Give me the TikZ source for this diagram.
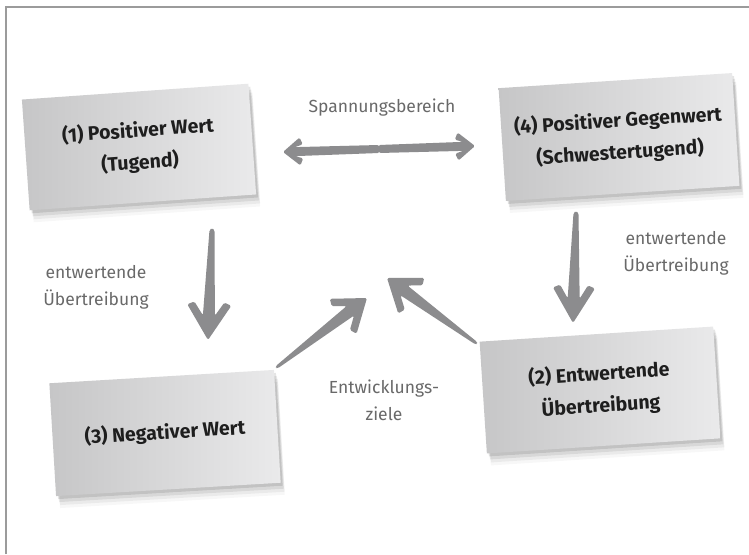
\documentclass[tikz,border=0pt]{standalone}
\usepackage{fontspec}
\setmainfont{Fira Sans}
\usetikzlibrary{calc,shadows}
\definecolor{framegray}{RGB}{155,155,155}
\definecolor{arrowgray}{RGB}{140,140,142}
\definecolor{labelgray}{RGB}{105,105,105}
\definecolor{boxdark}{RGB}{198,198,199}
\definecolor{boxlight}{RGB}{234,234,235}
\definecolor{boxtext}{RGB}{30,30,30}
\newcommand\fatarrow[6]{%
  % #1 tail, #2 tip, #3 head length, #4 head half width, #5 neck half width, #6 tail half width
  \fill[arrowgray, rounded corners=1.5pt]
    (#2)
    -- ($(#2)!#3!(#1)!#4!90:(#1)$)
    -- ($(#2)!#3+3pt!(#1)!#4-7pt!90:(#1)$)
    -- ($(#2)!0.7*#3!(#1)!#5!90:(#1)$)
    -- ($(#1)!#6!-90:(#2)$)
    -- ($(#1)!-2pt!(#2)$)
    -- ($(#1)!#6!90:(#2)$)
    -- ($(#2)!0.7*#3!(#1)!#5!-90:(#1)$)
    -- ($(#2)!#3+3pt!(#1)!#4-7pt!-90:(#1)$)
    -- ($(#2)!#3!(#1)!#4!-90:(#1)$)
    -- cycle;}
\tikzset{
  card/.style={rectangle, inner sep=0pt, left color=boxdark, right color=boxlight,
    text=boxtext, align=center, font=\bfseries\fontsize{19.5}{32}\selectfont,
    drop shadow={shadow xshift=2pt, shadow yshift=-3pt, opacity=.10, fill=black},
    drop shadow={shadow xshift=3pt, shadow yshift=-6pt, opacity=.07, fill=black},
    drop shadow={shadow xshift=4pt, shadow yshift=-9pt, opacity=.05, fill=black},
    drop shadow={shadow xshift=4pt, shadow yshift=-12pt, opacity=.03, fill=black}},
  lbl/.style={text=labelgray, align=center, font=\fontsize{17.5}{27}\selectfont}
}
\begin{document}
\begin{tikzpicture}[x=1pt, y=1pt]
\useasboundingbox (0,0) rectangle (749,-554);
\fill[white] (0,0) rectangle (749,-554);
\draw[framegray, line width=2.5pt] (6,-554) -- (6,-7) -- (749,-7);

\node[card, minimum width=227pt, minimum height=111pt, rotate=4.0] (b1) at (139,-147) {(1) Positiver Wert\\(Tugend)};
\node[card, minimum width=234pt, minimum height=113pt, rotate=3.7] (b4) at (619,-137) {(4) Positiver Gegenwert\\(Schwestertugend)};
\node[card, minimum width=225pt, minimum height=113pt, rotate=3.4] (b3) at (165,-433) {(3) Negativer Wert};
\node[card, minimum width=234pt, minimum height=112pt, rotate=3.7] (b2) at (600,-390) {(2) Entwertende\\Übertreibung};

\node[lbl] (sp) at (382,-108) {Spannungsbereich};
\node[lbl] (el) at (96,-287) {entwertende\\Übertreibung};
\node[lbl] (er) at (676,-253) {entwertende\\Übertreibung};
\node[lbl] (ez) at (384,-400) {Entwicklungs-\\ziele};

\coordinate (dl) at (283,-152);
\coordinate (dr) at (475,-146);
\coordinate (dm) at (379,-149);
\coordinate (a1t) at (212,-230);
\coordinate (a1h) at (208,-340);
\coordinate (a4t) at (576,-213);
\coordinate (a4h) at (573,-323);
\coordinate (a3t) at (277,-367);
\coordinate (a3h) at (367,-298);
\coordinate (a2t) at (476,-343);
\coordinate (a2h) at (387,-278);

\fatarrow{dm}{dl}{17pt}{14pt}{4.5pt}{4pt}
\fatarrow{dm}{dr}{17pt}{14pt}{4.5pt}{4pt}
\fatarrow{a1t}{a1h}{35pt}{22pt}{6pt}{2.5pt}
\fatarrow{a4t}{a4h}{35pt}{21pt}{6pt}{2.5pt}
\fatarrow{a3t}{a3h}{30pt}{22pt}{6pt}{1.5pt}
\fatarrow{a2t}{a2h}{30pt}{22pt}{6pt}{1.5pt}
\end{tikzpicture}
\end{document}
